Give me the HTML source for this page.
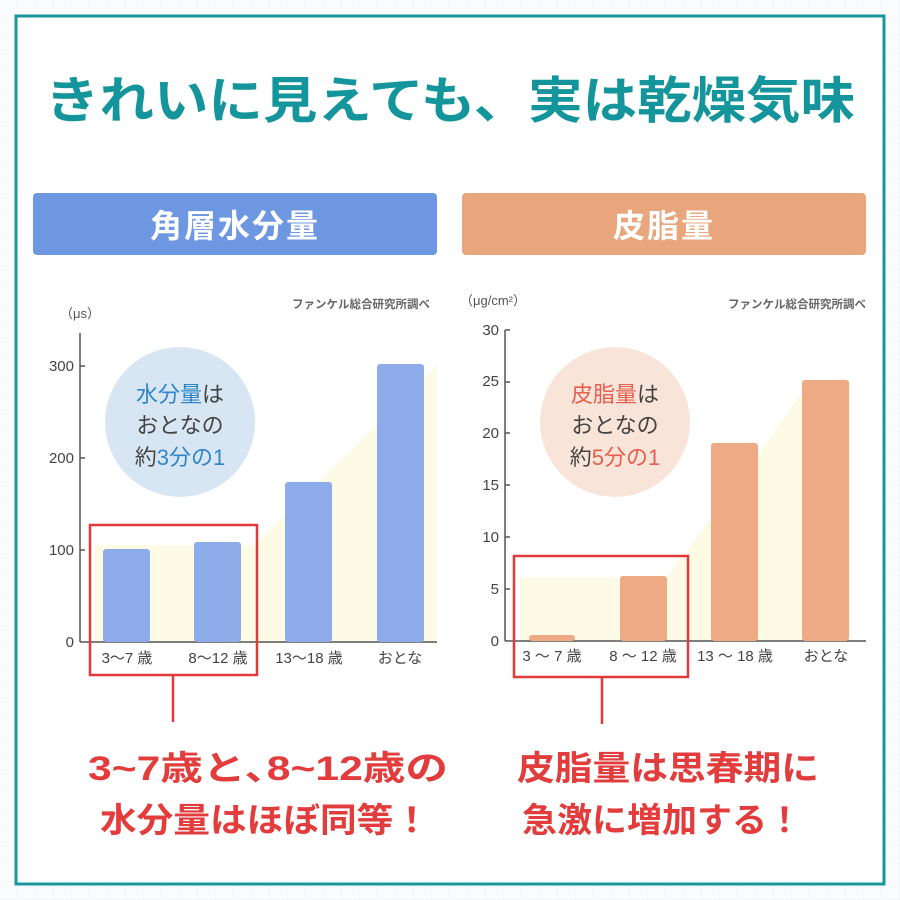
<!DOCTYPE html>
<html><head><meta charset="utf-8"><style>
html,body{margin:0;padding:0;width:900px;height:900px;overflow:hidden;background:#fafbfc}
svg{display:block}
text{font-family:"Liberation Sans","Noto Sans CJK JP",sans-serif}
</style></head><body>
<svg width="900" height="900" viewBox="0 0 900 900" xmlns="http://www.w3.org/2000/svg">
<defs><pattern id="g" width="18" height="18" patternUnits="userSpaceOnUse"><path d="M18 0V18H0" fill="none" stroke="#eef0f3" stroke-width="1"/></pattern></defs>
<rect width="900" height="900" fill="url(#g)"/>
<rect x="16" y="16" width="868" height="868" fill="#fff" stroke="#1a979d" stroke-width="3"/>
<text x="450" y="118" text-anchor="middle" font-size="50" font-weight="bold" fill="#14959b" textLength="810" lengthAdjust="spacingAndGlyphs">きれいに見えても、実は乾燥気味</text>
<rect x="33" y="193" width="404" height="62" rx="4" fill="#6e97e2"/>
<text x="235" y="237" text-anchor="middle" font-size="32" font-weight="bold" fill="#fff" letter-spacing="2">角層水分量</text>
<rect x="462" y="193" width="404" height="62" rx="4" fill="#e9a57c"/>
<text x="664" y="237" text-anchor="middle" font-size="32" font-weight="bold" fill="#fff" letter-spacing="2">皮脂量</text>

<!-- left chart -->
<polygon points="95,545 255,545 437,365 437,642 95,642" fill="#fdfbe6"/>
<text x="430" y="308" text-anchor="end" font-size="11.5" font-weight="bold" fill="#666">ファンケル総合研究所調べ</text>
<text x="60" y="318" font-size="13" fill="#555">（μs）</text>
<line x1="80" y1="333" x2="80" y2="642" stroke="#555" stroke-width="1.5"/>
<line x1="80" y1="642" x2="437" y2="642" stroke="#555" stroke-width="1.5"/>
<g font-size="15" fill="#444" text-anchor="end">
<text x="74" y="647">0</text><text x="74" y="555">100</text><text x="74" y="463">200</text><text x="74" y="371">300</text></g>
<g stroke="#555" stroke-width="1.5"><line x1="80" y1="550" x2="85" y2="550"/><line x1="80" y1="458" x2="85" y2="458"/><line x1="80" y1="366" x2="85" y2="366"/></g>
<g fill="#8eacea">
<rect x="103" y="549" width="47" height="93" rx="3"/>
<rect x="194" y="542" width="47" height="100" rx="3"/>
<rect x="285" y="482" width="47" height="160" rx="3"/>
<rect x="377" y="364" width="47" height="278" rx="3"/></g>
<g font-size="15" fill="#444" text-anchor="middle">
<text x="127" y="663">3～7 歳</text><text x="218" y="663">8～12 歳</text><text x="309" y="663">13～18 歳</text><text x="400" y="663">おとな</text></g>
<circle cx="180" cy="422" r="75" fill="#d8e6f4"/>
<g font-size="22" text-anchor="middle" fill="#444">
<text x="180" y="402"><tspan fill="#2f86c8">水分量</tspan>は</text>
<text x="180" y="433">おとなの</text>
<text x="180" y="465">約<tspan fill="#2f86c8">3分の1</tspan></text></g>
<rect x="90" y="525" width="167" height="150" fill="none" stroke="#e03a3a" stroke-width="2.5"/>
<line x1="173" y1="675" x2="173" y2="722" stroke="#e03a3a" stroke-width="2.5"/>

<!-- right chart -->
<polygon points="520,577 667,577 760,452 800,395 850,380 850,641 520,641" fill="#fdfbe6"/>
<text x="866" y="308" text-anchor="end" font-size="11.5" font-weight="bold" fill="#666">ファンケル総合研究所調べ</text>
<text x="460" y="305" font-size="13" fill="#555">（μg/cm²）</text>
<line x1="505" y1="330" x2="505" y2="641" stroke="#555" stroke-width="1.5"/>
<line x1="505" y1="641" x2="866" y2="641" stroke="#555" stroke-width="1.5"/>
<g font-size="15" fill="#444" text-anchor="end">
<text x="499" y="646">0</text><text x="499" y="594">5</text><text x="499" y="542">10</text><text x="499" y="490">15</text><text x="499" y="438">20</text><text x="499" y="386">25</text><text x="499" y="335">30</text></g>
<g stroke="#555" stroke-width="1.5"><line x1="505" y1="589" x2="510" y2="589"/><line x1="505" y1="537" x2="510" y2="537"/><line x1="505" y1="485" x2="510" y2="485"/><line x1="505" y1="433" x2="510" y2="433"/><line x1="505" y1="382" x2="510" y2="382"/><line x1="505" y1="330" x2="510" y2="330"/></g>
<g fill="#eeaa84">
<rect x="529" y="635" width="46" height="6" rx="3"/>
<rect x="620" y="576" width="47" height="65" rx="3"/>
<rect x="711" y="443" width="47" height="198" rx="3"/>
<rect x="802" y="380" width="47" height="261" rx="3"/></g>
<g font-size="15" fill="#444" text-anchor="middle">
<text x="552" y="661">3 ～ 7 歳</text><text x="643" y="661">8 ～ 12 歳</text><text x="735" y="661">13 ～ 18 歳</text><text x="826" y="661">おとな</text></g>
<circle cx="615" cy="422" r="75" fill="#f9e4da"/>
<g font-size="22" text-anchor="middle" fill="#444">
<text x="615" y="402"><tspan fill="#e5604e">皮脂量</tspan>は</text>
<text x="615" y="433">おとなの</text>
<text x="615" y="465">約<tspan fill="#e5604e">5分の1</tspan></text></g>
<rect x="514" y="556" width="174" height="121" fill="none" stroke="#e03a3a" stroke-width="2.5"/>
<line x1="602" y1="677" x2="602" y2="724" stroke="#e03a3a" stroke-width="2.5"/>

<g font-size="34" font-weight="bold" fill="#e23c3c">
<text x="88" y="780" textLength="360" lengthAdjust="spacingAndGlyphs">3~7歳と､8~12歳の</text>
<text x="100" y="832" textLength="330" lengthAdjust="spacingAndGlyphs">水分量はほぼ同等！</text>
<text x="517" y="780" textLength="302" lengthAdjust="spacingAndGlyphs">皮脂量は思春期に</text>
<text x="522" y="832" textLength="280" lengthAdjust="spacingAndGlyphs">急激に増加する！</text></g>
</svg>
</body></html>
